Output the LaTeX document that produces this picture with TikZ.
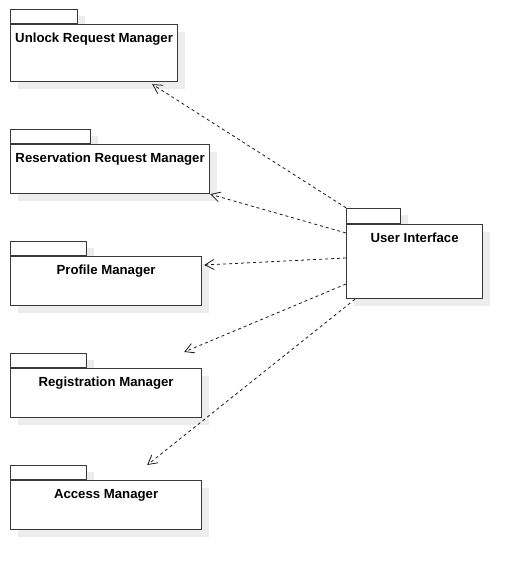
\documentclass[tikz,border=0pt]{standalone}
\usepackage{fontspec}
\setmainfont{Liberation Sans}
\usetikzlibrary{arrows.meta, positioning, shadows, calc}
\definecolor{rand}{gray}{0.22}
\definecolor{schatten}{gray}{0.93}
\tikzset{
  pkg/.style={draw=rand, fill=white, line width=1.2pt, anchor=north west, inner sep=0pt,
    drop shadow={shadow xshift=7pt, shadow yshift=-7pt, fill=schatten, opacity=1}},
  pkgtab/.style={pkg, anchor=south west, minimum height=14pt},
  pkgname/.style={font=\fontsize{13.2}{15}\selectfont\bfseries, inner sep=2pt},
  dep/.style={-{Straight Barb[length=9pt,width=10pt]}, dash pattern=on 3pt off 3pt, line width=0.8pt, draw=black!90},
}

\begin{document}
\begin{tikzpicture}[x=1pt, y=1pt]
    \useasboundingbox (0,0) rectangle (522,570);

    % packages on the left
    \node[pkgtab, minimum width=67pt] (unlocktab) at (10,546) {};
    \node[pkg, minimum width=167pt, minimum height=57pt] (unlock) at (unlocktab.south west) {};
    \node[pkgname, below=7pt of unlock.north] (unlockname) {Unlock Request Manager};

    \node[pkgtab, minimum width=80pt] (restab) at (10,426) {};
    \node[pkg, minimum width=199pt, minimum height=49pt] (res) at (restab.south west) {};
    \node[pkgname, below=7pt of res.north] (resname) {Reservation Request Manager};

    \node[pkgtab, minimum width=76pt] (profiletab) at (10,314) {};
    \node[pkg, minimum width=191pt, minimum height=49pt] (profile) at (profiletab.south west) {};
    \node[pkgname, below=7pt of profile.north] (profilename) {Profile Manager};

    \node[pkgtab, minimum width=76pt] (regtab) at (10,202) {};
    \node[pkg, minimum width=191pt, minimum height=49pt] (reg) at (regtab.south west) {};
    \node[pkgname, below=7pt of reg.north] (regname) {Registration Manager};

    \node[pkgtab, minimum width=76pt] (accesstab) at (10,90) {};
    \node[pkg, minimum width=191pt, minimum height=49pt] (access) at (accesstab.south west) {};
    \node[pkgname, below=7pt of access.north] (accessname) {Access Manager};

    % user interface
    \node[pkgtab, minimum width=54pt, minimum height=15pt] (uitab) at (346,346) {};
    \node[pkg, minimum width=136pt, minimum height=74pt] (ui) at (uitab.south west) {};
    \node[pkgname, below=7pt of ui.north] (uiname) {User Interface};

    % dependencies
    \draw[dep] (uitab.north west) -- ($(unlock.south east)+(-26,-2)$);
    \draw[dep] ($(ui.north west)+(0,-9)$) -- (res.south east);
    \draw[dep] ($(ui.north west)+(0,-34)$) -- ($(profile.north east)+(2,-9)$);
    \draw[dep] ($(ui.north west)+(0,-60)$) -- ($(reg.north east)+(-18,16)$);
    \draw[dep] ($(ui.south west)+(9,0)$) -- ($(access.north east)+(-55,15)$);
\end{tikzpicture}
\end{document}
